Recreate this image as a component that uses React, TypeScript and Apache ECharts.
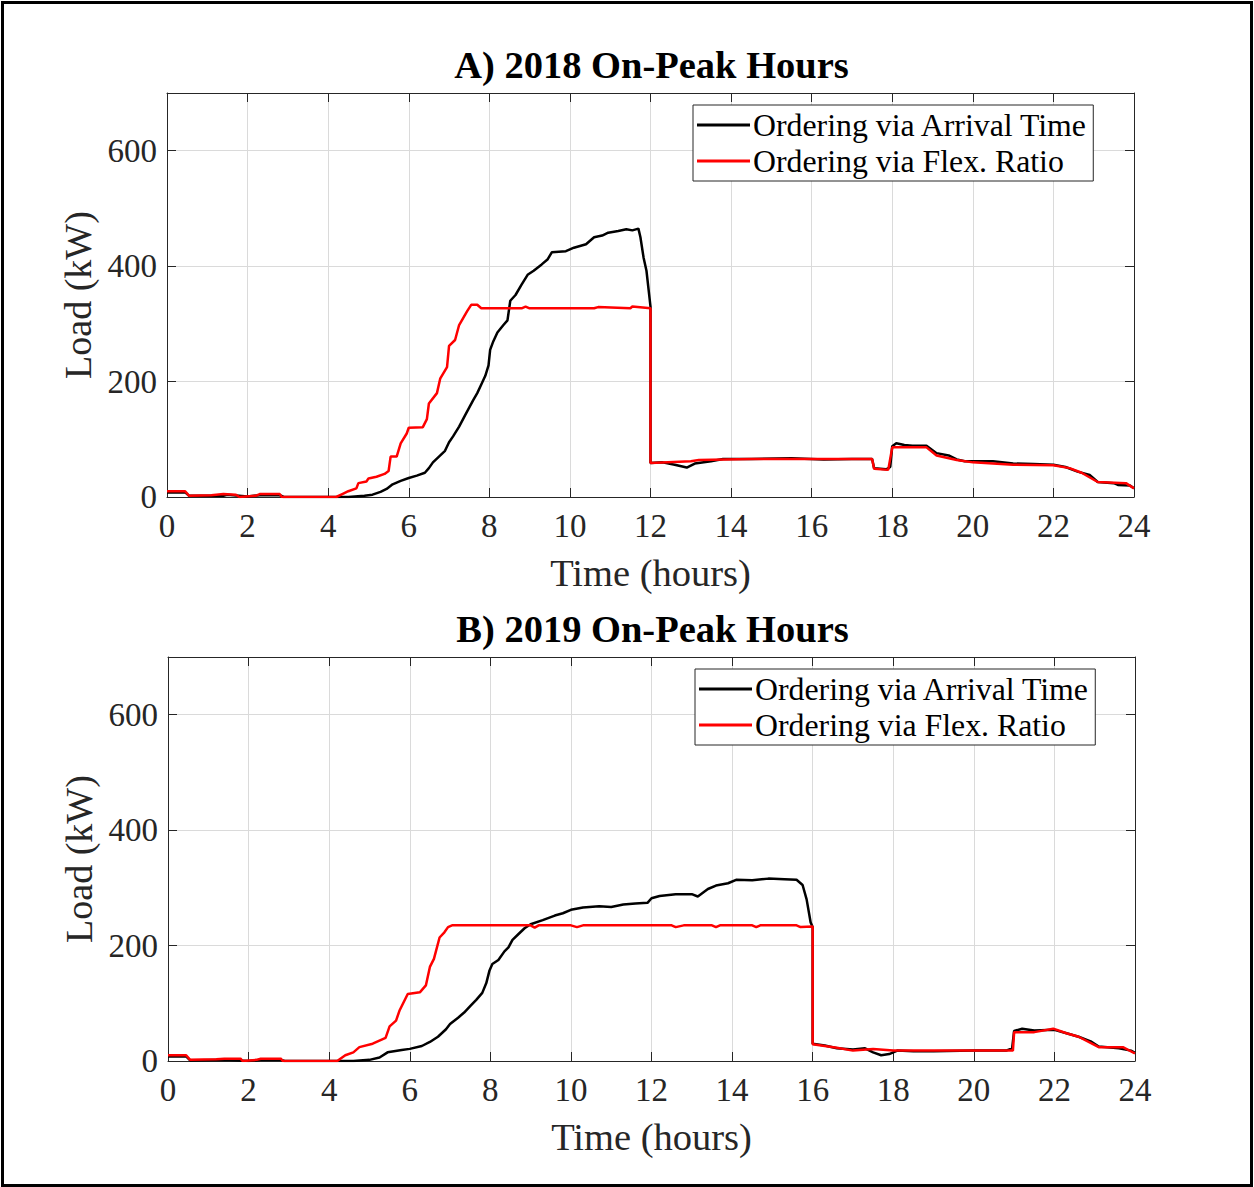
import React, { useEffect, useRef } from "react";
import * as echarts from "echarts";

type Pt = [number, number];

const seriesNames = ["Ordering via Arrival Time", "Ordering via Flex. Ratio"];
const panelTitles = ["A) 2018 On-Peak Hours", "B) 2019 On-Peak Hours"];
const xTicks = [0, 24, 2];
const yTicks = [0, 700, 200];

const arrival2018: Pt[] = [
  [0, 8], [0.45, 8], [0.55, 2], [1.4, 2], [1.5, 4], [2.0, 1], [2.3, 3], [2.8, 3], [2.9, 0], [4.5, 0],
  [4.9, 2], [5.1, 4], [5.3, 9], [5.45, 14], [5.6, 22], [5.8, 28], [6.0, 33], [6.2, 37], [6.4, 42],
  [6.5, 50], [6.6, 60], [6.75, 70], [6.9, 80], [7.0, 95], [7.1, 105], [7.25, 122], [7.4, 142],
  [7.5, 155], [7.6, 168], [7.7, 180], [7.8, 195], [7.9, 210], [7.98, 228], [8.02, 255], [8.1, 270],
  [8.2, 285], [8.35, 298], [8.45, 306], [8.52, 340], [8.65, 350], [8.8, 368], [8.95, 385], [9.1, 392],
  [9.3, 403], [9.45, 412], [9.55, 424], [9.9, 426], [10.1, 432], [10.4, 438], [10.6, 450], [10.8, 453],
  [10.95, 458], [11.2, 461], [11.4, 464], [11.55, 462], [11.7, 465], [11.75, 450], [11.83, 414],
  [11.9, 392], [12, 330], [12, 59], [12.3, 60], [12.6, 56], [12.9, 51], [13.1, 58], [13.5, 62],
  [13.8, 66], [14.5, 66], [15.5, 67], [16.3, 65], [17.0, 66], [17.5, 66], [17.55, 50], [17.85, 48],
  [17.95, 52], [18.0, 88], [18.1, 93], [18.3, 90], [18.5, 89], [18.85, 89], [19.1, 76], [19.4, 72],
  [19.6, 65], [19.8, 62], [20.5, 62], [21.0, 58], [21.5, 57], [22.0, 56], [22.3, 52], [22.6, 44],
  [22.9, 38], [23.1, 26], [23.5, 24], [23.6, 21], [23.9, 20], [24, 15],
];

const flex2018: Pt[] = [
  [0, 10], [0.45, 10], [0.55, 2], [1.1, 3], [1.4, 5], [1.7, 4], [1.8, 0], [2.2, 2], [2.3, 5], [2.8, 5],
  [2.85, 0], [4.2, 0], [4.35, 5], [4.5, 10], [4.7, 15], [4.75, 24], [4.95, 27], [5.0, 32], [5.2, 35],
  [5.4, 40], [5.5, 45], [5.55, 70], [5.7, 70], [5.8, 93], [5.95, 110], [6.0, 120], [6.35, 121],
  [6.45, 135], [6.5, 162], [6.7, 180], [6.78, 205], [6.95, 225], [7.0, 262], [7.15, 272], [7.25, 298],
  [7.35, 310], [7.45, 322], [7.55, 333], [7.7, 333], [7.8, 327], [8.8, 327], [8.9, 330], [9.0, 327],
  [10.6, 327], [10.7, 329], [11.5, 327], [11.55, 330], [12, 327], [12, 59], [13, 62], [13.2, 64],
  [14.5, 66], [15.5, 66], [16.5, 66], [17.5, 66], [17.55, 49], [17.9, 47], [18.0, 86], [18.85, 86],
  [19.1, 72], [19.6, 64], [20, 60], [21, 56], [22, 55], [22.4, 50], [22.7, 42], [23.1, 26], [23.8, 24],
  [24, 15],
];

const arrival2019: Pt[] = [
  [0, 8], [0.45, 8], [0.55, 1], [1.4, 2], [2.0, 0], [2.3, 2], [2.8, 2], [2.9, 0], [4.6, 0], [5.0, 2],
  [5.25, 6], [5.45, 15], [5.8, 19], [6.0, 21], [6.3, 26], [6.5, 33], [6.7, 42], [6.9, 55], [7.0, 64],
  [7.2, 75], [7.35, 84], [7.5, 95], [7.65, 106], [7.8, 118], [7.9, 135], [7.98, 157], [8.05, 168],
  [8.2, 175], [8.35, 190], [8.45, 197], [8.55, 210], [8.7, 220], [8.85, 230], [9.0, 237], [9.3, 244],
  [9.6, 252], [9.8, 256], [10.0, 262], [10.3, 266], [10.7, 268], [11.0, 267], [11.3, 271], [11.6, 273],
  [11.9, 274], [12.0, 282], [12.2, 286], [12.6, 289], [13.0, 289], [13.15, 285], [13.4, 298],
  [13.6, 304], [13.9, 308], [14.1, 314], [14.5, 313], [14.9, 316], [15.3, 315], [15.6, 314],
  [15.75, 305], [15.85, 280], [15.95, 240], [16, 232], [16, 30], [16.3, 27], [16.6, 22], [17, 20],
  [17.3, 22], [17.5, 15], [17.7, 10], [17.9, 12], [18.1, 18], [18.5, 17], [19, 17], [20, 18],
  [20.8, 18], [20.95, 22], [21.0, 52], [21.2, 56], [21.5, 53], [22.0, 54], [22.3, 48], [22.6, 42],
  [22.9, 34], [23.1, 25], [23.6, 22], [23.9, 18], [24, 14],
];

const flex2019: Pt[] = [
  [0, 10], [0.45, 10], [0.55, 2], [1.2, 3], [1.4, 4], [1.8, 4], [1.85, 0], [2.2, 2], [2.3, 4], [2.8, 4],
  [2.85, 0], [4.2, 0], [4.4, 10], [4.6, 15], [4.75, 24], [5.08, 30], [5.4, 40], [5.5, 60], [5.66, 70],
  [5.75, 88], [5.95, 116], [6.25, 119], [6.4, 131], [6.5, 163], [6.6, 177], [6.74, 214], [6.86, 223],
  [6.95, 232], [7.05, 235], [9.0, 235], [9.1, 231], [9.2, 235], [10, 235], [10.15, 232], [10.3, 235],
  [12, 235], [12.5, 235], [12.6, 232], [12.8, 235], [13.5, 235], [13.6, 232], [13.7, 235], [14.5, 235],
  [14.6, 232], [14.7, 235], [15.6, 235], [15.7, 232], [16, 233], [16, 29], [16.6, 23], [17, 18],
  [17.5, 21], [18, 18], [20.97, 18], [21.0, 50], [21.5, 50], [21.97, 56], [22.3, 48], [22.6, 42],
  [23.1, 24], [23.7, 24], [24, 13],
];

const panelData: Pt[][][] = [
  [arrival2018, flex2018],
  [arrival2019, flex2019],
];
const seriesColors = ["#000000", "#ff0000"];

const FONT = "Liberation Serif";
const TXT = "#262626";

export default function App() {
  const ref = useRef<HTMLDivElement>(null);
  useEffect(() => {
    document.body.style.margin = "0";
    const chart = echarts.init(ref.current!, null, { renderer: "svg" });
    const grids = [
      { left: 167, top: 93, width: 967, height: 404 },
      { left: 168, top: 657, width: 967, height: 404 },
    ];
    const xAxis: any[] = [];
    const yAxis: any[] = [];
    const series: any[] = [];
    const legend: any[] = [];
    const graphic: any[] = [
      {
        type: "rect",
        shape: { x: 2.5, y: 2.5, width: 1249, height: 1183 },
        style: { fill: "none", stroke: "#000", lineWidth: 3 },
        z: 100,
      },
    ];
    const axisLine = { show: true, onZero: false, lineStyle: { color: TXT, width: 1 } };
    const tick = { show: true, inside: true, length: 9, lineStyle: { color: TXT, width: 1 } };
    const split = { show: true, lineStyle: { color: "#dadada", width: 1 } };
    grids.forEach((g, i) => {
      xAxis.push({
        type: "value", gridIndex: i, min: xTicks[0], max: xTicks[1], interval: xTicks[2],
        position: "bottom", axisLine, axisTick: tick, splitLine: split,
        axisLabel: { color: TXT, fontFamily: FONT, fontSize: 33, margin: 12 },
        name: "Time (hours)", nameLocation: "middle", nameGap: 56,
        nameTextStyle: { color: TXT, fontFamily: FONT, fontSize: 38.5 },
      });
      xAxis.push({
        type: "value", gridIndex: i, min: xTicks[0], max: xTicks[1], interval: xTicks[2],
        position: "top", axisLine, axisTick: tick, splitLine: { show: false },
        axisLabel: { show: false },
      });
      yAxis.push({
        type: "value", gridIndex: i, min: yTicks[0], max: yTicks[1], interval: yTicks[2],
        position: "left", axisLine, axisTick: tick, splitLine: split,
        axisLabel: {
          color: TXT, fontFamily: FONT, fontSize: 33, margin: 10, showMaxLabel: false,
          formatter: (v: number) => (v === 700 ? "" : String(v)),
        },
        name: "Load (kW)", nameLocation: "middle", nameGap: 66,
        nameTextStyle: { color: TXT, fontFamily: FONT, fontSize: 38 },
      });
      yAxis.push({
        type: "value", gridIndex: i, min: yTicks[0], max: yTicks[1], interval: yTicks[2],
        position: "right", axisLine, axisTick: tick, splitLine: { show: false },
        axisLabel: { show: false },
      });
      panelData[i].forEach((d, k) => {
        series.push({
          type: "line", name: seriesNames[k], xAxisIndex: i * 2, yAxisIndex: i * 2,
          data: d, showSymbol: false, symbol: "none",
          lineStyle: { color: seriesColors[k], width: 2.5 }, itemStyle: { color: seriesColors[k] },
          z: 10 + k,
        });
      });
      legend.push({
        data: seriesNames, orient: "vertical",
        left: g.left + 526 + i, top: g.top + 12,
        icon: "rect", itemWidth: 53, itemHeight: 3, itemGap: 2,
        padding: [3, 5, 3, 4], borderColor: TXT, borderWidth: 1, backgroundColor: "#fff",
        textStyle: { fontFamily: FONT, fontSize: 31.8, color: "#000", lineHeight: 34, padding: [0, 0, 0, -2] },
        selectedMode: false,
      });
      graphic.push({
        type: "text",
        x: g.left + g.width / 2 + 1,
        y: g.top - 28,
        style: {
          text: panelTitles[i], fontFamily: FONT, fontSize: 38.5, fontWeight: "bold",
          fill: "#000", textAlign: "center", textVerticalAlign: "middle",
        },
      });
    });
    chart.setOption({
      animation: false,
      backgroundColor: "#fff",
      grid: grids,
      xAxis, yAxis, series, legend, graphic,
    });
    return () => chart.dispose();
  }, []);
  return <div ref={ref} style={{ width: 1254, height: 1187 }} />;
}
